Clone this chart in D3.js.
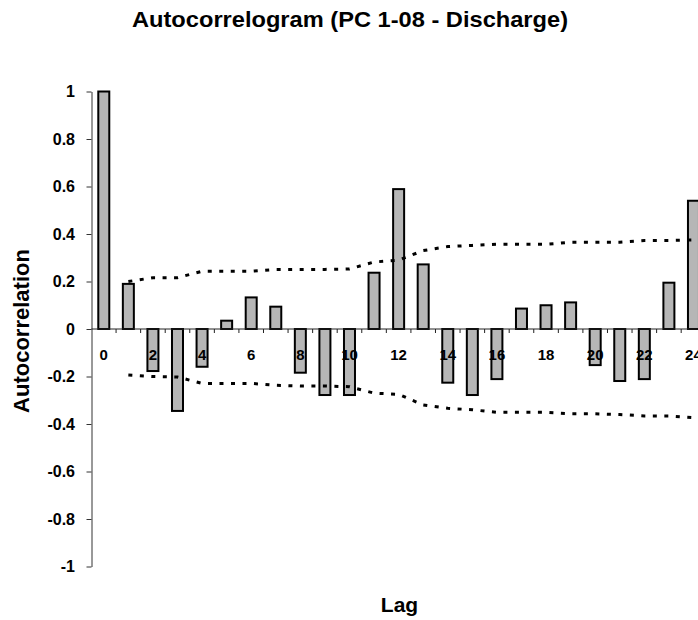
<!DOCTYPE html>
<html>
<head>
<meta charset="utf-8">
<script src="https://cdn.jsdelivr.net/npm/d3@7"></script>
<style>
  body { margin: 0; background: #fff; }
  svg { display: block; font-family: "Liberation Sans", Arial, sans-serif; font-weight: bold; }
</style>
</head>
<body>
<svg id="chart" width="698" height="620"></svg>
<script>
// lag categories and autocorrelation values
const lags = d3.range(0, 25);
const acf = [1.0, 0.19, -0.177, -0.345, -0.159, 0.035, 0.133, 0.094, -0.184, -0.278,
             -0.278, 0.237, 0.589, 0.272, -0.226, -0.278, -0.211, 0.086, 0.100, 0.112,
             -0.152, -0.219, -0.211, 0.195, 0.540];

// confidence limits, lags 1..24
const limitLags = d3.range(1, 25);
const upper = [0.200, 0.216, 0.216, 0.243, 0.243, 0.243, 0.251, 0.251, 0.251, 0.253,
               0.282, 0.290, 0.330, 0.347, 0.352, 0.357, 0.357, 0.357, 0.365, 0.365,
               0.365, 0.373, 0.373, 0.375];
const lower = [-0.194, -0.200, -0.202, -0.229, -0.229, -0.229, -0.237, -0.240, -0.240, -0.243,
               -0.270, -0.275, -0.320, -0.334, -0.340, -0.351, -0.351, -0.351, -0.357, -0.357,
               -0.360, -0.366, -0.366, -0.373];

const yTicks = [1, 0.8, 0.6, 0.4, 0.2, 0, -0.2, -0.4, -0.6, -0.8, -1];
const xTickLabels = ["0", "2", "4", "6", "8", "10", "12", "14", "16", "18", "20", "22", "24"];

const svg = d3.select("#chart");

const x = d3.scaleBand()
    .domain(lags)
    .range([91.5, 705.75])
    .padding(0);

const y = d3.scaleLinear()
    .domain([-1, 1])
    .range([566.5, 91.5]);

const center = d => x(d) + x.bandwidth() / 2;
const barW = 11;

// title
svg.append("text")
    .attr("x", 350)
    .attr("y", 27)
    .attr("text-anchor", "middle")
    .style("font-size", "22px")
    .attr("textLength", 436)
    .attr("lengthAdjust", "spacingAndGlyphs")
    .text("Autocorrelogram (PC 1-08 - Discharge)");

// y axis
const yAxis = svg.append("g")
    .attr("transform", `translate(${x.range()[0]},0)`)
    .call(d3.axisLeft(y).tickValues(yTicks).tickSize(5).tickSizeOuter(0).tickPadding(11.5)
        .tickFormat(d => String(d)));
yAxis.select(".domain").attr("stroke", "#333");
yAxis.selectAll(".tick line").attr("stroke", "#333");
yAxis.selectAll(".tick text")
    .style("font-size", "16px")
    .style("font-family", "'Liberation Sans', Arial, sans-serif")
    .style("font-weight", "bold")
    .attr("fill", "#000");

// y label
svg.append("text")
    .attr("transform", "translate(29,331) rotate(-90)")
    .attr("text-anchor", "middle")
    .style("font-size", "22px")
    .text("Autocorrelation");

// bars
svg.append("g")
    .selectAll("rect")
    .data(lags)
    .join("rect")
    .attr("x", d => center(d) - barW / 2)
    .attr("width", barW)
    .attr("y", d => y(Math.max(0, acf[d])))
    .attr("height", d => Math.abs(y(acf[d]) - y(0)))
    .attr("fill", "#b6b6b6")
    .attr("stroke", "#000")
    .attr("stroke-width", 2);

// zero line with category ticks
const xAxis = svg.append("g");
xAxis.append("line")
    .attr("x1", x.range()[0]).attr("x2", x.range()[1])
    .attr("y1", y(0)).attr("y2", y(0))
    .attr("stroke", "#222");
xAxis.selectAll(".tk")
    .data(lags.slice(1))
    .join("line")
    .attr("class", "tk")
    .attr("x1", d => x(d)).attr("x2", d => x(d))
    .attr("y1", y(0)).attr("y2", y(0) + 4)
    .attr("stroke", "#222");

// confidence limits
const line = d3.line()
    .x((d, i) => center(limitLags[i]))
    .y(d => y(d));

[upper, lower].forEach(series => {
    svg.append("path")
        .datum(series)
        .attr("fill", "none")
        .attr("stroke", "#000")
        .attr("stroke-width", 3)
        .attr("stroke-dasharray", "4,7.5")
        .attr("d", line);
});

// lag labels
svg.append("g")
    .selectAll("text")
    .data(xTickLabels)
    .join("text")
    .attr("x", d => center(+d))
    .attr("y", 360)
    .attr("text-anchor", "middle")
    .style("font-size", "15px")
    .text(d => d);

// x label
svg.append("text")
    .attr("x", 399.5)
    .attr("y", 612)
    .attr("text-anchor", "middle")
    .style("font-size", "21px")
    .text("Lag");
</script>
</body>
</html>
